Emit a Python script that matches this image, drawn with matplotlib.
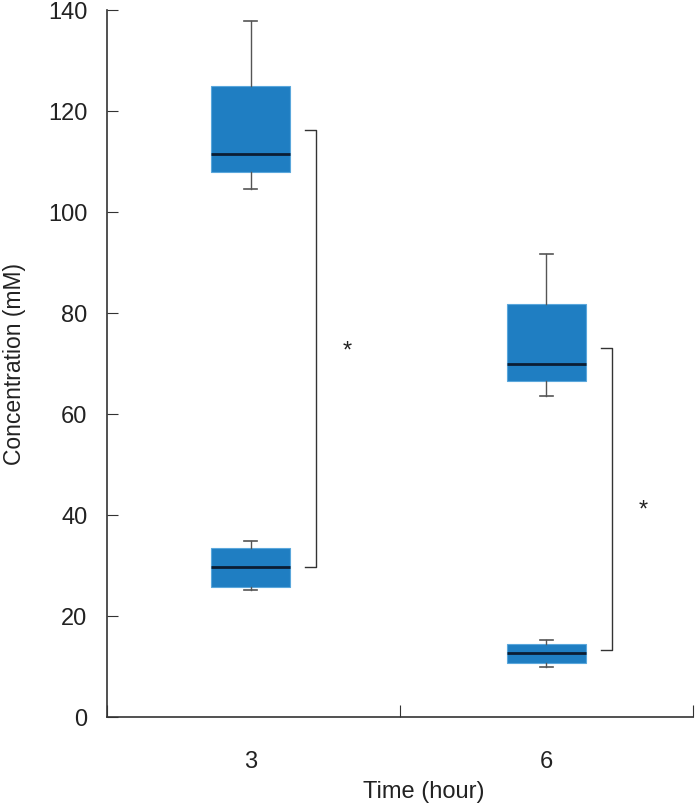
import matplotlib
matplotlib.use("Agg")
import matplotlib.pyplot as plt

# box statistics: (whislo, q1, median, q3, whishi)
times = ["3", "6"]
upper_group = [(104.6, 107.9, 111.5, 124.9, 137.9),
               (63.5, 66.6, 69.8, 81.7, 91.7)]
lower_group = [(25.1, 25.8, 29.6, 33.5, 34.8),
               (9.9, 10.6, 12.7, 14.5, 15.3)]
# significance brackets: (top, bottom) per time point
brackets = [(116.3, 29.6), (73.0, 13.3)]
star_y = [72.5, 41.0]

BOX = "#1f7ec2"
plt.rcParams["font.family"] = ["Liberation Sans", "DejaVu Sans"]

fig = plt.figure(figsize=(6.95, 8.12), dpi=100)
ax = fig.add_axes([0.154, 0.1158, 0.843, 0.8707])

pos = [0.49, 1.5]
stats = []
for grp in (upper_group, lower_group):
    for p, (lo, q1, med, q3, hi) in zip(pos, grp):
        stats.append(dict(whislo=lo, q1=q1, med=med, q3=q3, whishi=hi, fliers=[]))
positions = pos + pos
ax.bxp(stats, positions=positions, widths=0.27, patch_artist=True,
       showfliers=False, capwidths=0.045,
       boxprops=dict(facecolor=BOX, edgecolor="#5aa7dc", lw=0.8),
       medianprops=dict(color="#0b1d33", lw=2.0),
       whiskerprops=dict(color="#555555", lw=1.0),
       capprops=dict(color="#555555", lw=1.2))

# brackets and asterisks
for i, (top, bot) in enumerate(brackets):
    x0 = pos[i] + 0.185
    x1 = pos[i] + 0.225
    ax.plot([x0, x1, x1, x0], [top, top, bot, bot], color="#333333", lw=1.0)
    ax.text(pos[i] + 0.33, star_y[i], "*", fontsize=17, ha="center", va="center",
            color="#222222")

ax.set_xlim(0, 2)
ax.set_ylim(0, 140)
ax.spines["top"].set_visible(False)
ax.spines["right"].set_visible(False)
for s in ("left", "bottom"):
    ax.spines[s].set_color("#333333")
    ax.spines[s].set_linewidth(1.2)

ax.set_yticks(range(0, 141, 20))
ax.tick_params(axis="y", direction="in", length=8, width=0.8, color="#333333",
               labelsize=17, pad=14, labelcolor="#222222")
ax.set_xticks([0, 1, 2])
ax.set_xticklabels([])
ax.set_xticks(pos, minor=True)
ax.set_xticklabels(times, minor=True)
ax.tick_params(axis="x", which="major", direction="in", length=9, width=0.8,
               color="#333333")
ax.tick_params(axis="x", which="minor", length=0, labelsize=17, pad=24,
               labelcolor="#222222")

ax.set_ylabel("Concentration (mM)", fontsize=16.5, color="#222222", va="center")
ax.set_xlabel("Time (hour)", fontsize=17, color="#222222", va="center")
ax.yaxis.set_label_coords(-0.158, 0.5)
ax.xaxis.set_label_coords(0.54, -0.105)

fig.savefig("out.png", dpi=100)
